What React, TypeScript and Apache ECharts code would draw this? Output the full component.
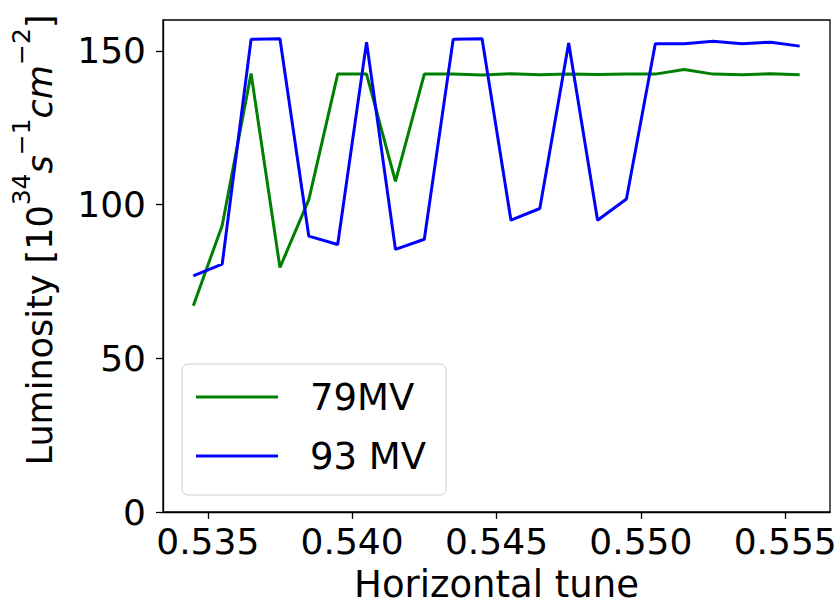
import React, { useEffect, useRef } from "react";
import * as echarts from "echarts";

const tunes = [
  0.5345, 0.5355, 0.5365, 0.5375, 0.5385, 0.5395, 0.5405, 0.5415, 0.5425, 0.5435, 0.5445,
  0.5455, 0.5465, 0.5475, 0.5485, 0.5495, 0.5505, 0.5515, 0.5525, 0.5535, 0.5545, 0.5555,
];
const lum79 = [
  67.1, 93.2, 142.6, 79.5, 101.6, 142.4, 142.4, 107.5, 142.4, 142.4, 142.1,
  142.5, 142.2, 142.4, 142.3, 142.4, 142.4, 143.9, 142.4, 142.2, 142.5, 142.2,
];
const lum93 = [
  76.8, 80.6, 153.7, 153.9, 89.7, 87.0, 152.8, 85.4, 88.7, 153.7, 153.9,
  94.9, 98.7, 152.5, 94.9, 101.8, 152.3, 152.3, 153.1, 152.3, 152.8, 151.5,
];
const seriesNames = ["79MV", "93 MV"];
const xTicks = [0.535, 0.54, 0.545, 0.55, 0.555];
const yTicks = [0, 50, 100, 150];

const FONT = "DejaVu Sans";

export default function App() {
  const ref = useRef<HTMLDivElement>(null);
  useEffect(() => {
    if (!ref.current) return;
    const chart = echarts.init(ref.current, null, { renderer: "svg" });
    const pair = (ys: number[]) => tunes.map((x, i) => [x, ys[i]]);
    chart.setOption({
      animation: false,
      backgroundColor: "#ffffff",
      grid: {
        left: 163,
        right: 10,
        top: 20,
        bottom: 94,
        show: true,
        borderColor: "#000000",
        borderWidth: 1.3,
        backgroundColor: "transparent",
      },
      xAxis: {
        type: "value",
        min: 0.53345,
        max: 0.55655,
        name: "Horizontal tune",
        nameLocation: "middle",
        nameGap: 54,
        nameTextStyle: { fontFamily: FONT, fontSize: 37, color: "#000" },
        axisLine: { show: true, onZero: false, lineStyle: { color: "#000", width: 1.3 } },
        axisTick: { show: true, inside: false, length: 7, lineStyle: { color: "#000", width: 1.3 }, customValues: xTicks },
        axisLabel: {
          customValues: xTicks,
          margin: 11,
          fontFamily: FONT,
          fontSize: 36,
          color: "#000",
          formatter: (v: number) => v.toFixed(3),
        },
        splitLine: { show: false },
      },
      yAxis: {
        type: "value",
        min: 0,
        max: 160,
        name: "{n|Luminosity [10}{sup|34}{i|s}{sup|−1}{i|cm}{sup|−2}{n|]}",
        nameLocation: "middle",
        nameGap: 106,
        nameTextStyle: {
          fontFamily: FONT,
          color: "#000",
          padding: [0, 0, 0, 52],
          rich: {
            n: { fontFamily: FONT, fontSize: 35, color: "#000", verticalAlign: "bottom", lineHeight: 48 },
            i: { fontFamily: FONT, fontSize: 35, fontStyle: "italic", color: "#000", verticalAlign: "bottom", lineHeight: 48 },
            sup: { fontFamily: FONT, fontSize: 25, color: "#000", verticalAlign: "top" },
          },
        },
        axisLine: { show: true, lineStyle: { color: "#000", width: 1.3 } },
        axisTick: { show: true, inside: false, length: 7, lineStyle: { color: "#000", width: 1.3 }, customValues: yTicks },
        axisLabel: { customValues: yTicks, margin: 17, fontFamily: FONT, fontSize: 36, color: "#000" },
        splitLine: { show: false },
      },
      legend: {
        orient: "vertical",
        left: 182,
        top: 364,
        icon: "rect",
        itemWidth: 82,
        itemHeight: 3,
        itemGap: 15,
        padding: [11, 20, 17, 14],
        borderColor: "#cccccc",
        borderWidth: 1,
        borderRadius: 6,
        backgroundColor: "rgba(255,255,255,0.8)",
        textStyle: { fontFamily: FONT, fontSize: 37, color: "#000", lineHeight: 44, padding: [0, 0, 0, 27] },
        data: seriesNames,
      },
      series: [
        {
          name: seriesNames[0],
          type: "line",
          data: pair(lum79),
          symbol: "none",
          lineStyle: { color: "#008000", width: 3 },
          itemStyle: { color: "#008000" },
        },
        {
          name: seriesNames[1],
          type: "line",
          data: pair(lum93),
          symbol: "none",
          lineStyle: { color: "#0000ff", width: 3 },
          itemStyle: { color: "#0000ff" },
        },
      ],
    });
    return () => chart.dispose();
  }, []);
  return <div ref={ref} style={{ width: 840, height: 608, position: "absolute", left: 0, top: 0 }} />;
}
